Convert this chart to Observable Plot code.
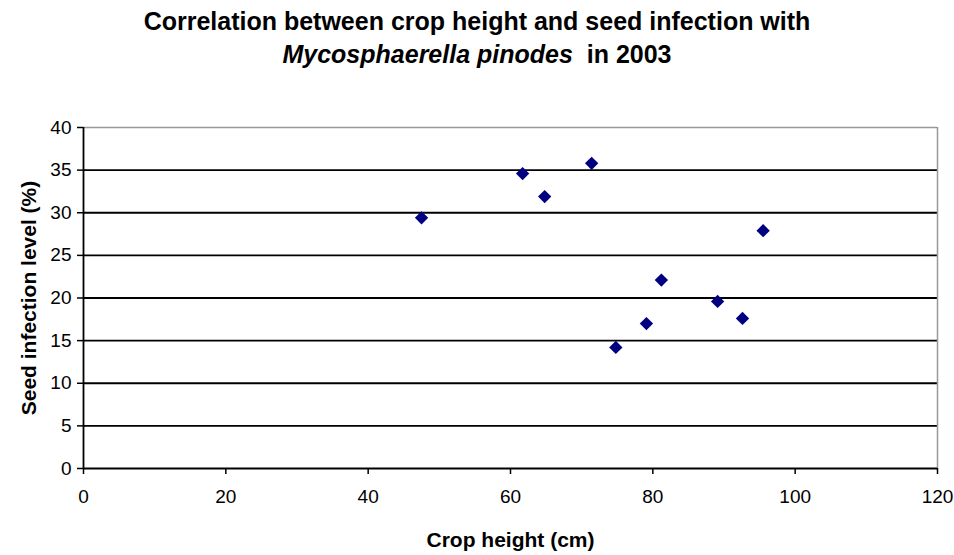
<!DOCTYPE html>
<html>
<head>
<meta charset="utf-8">
<script src="https://cdn.jsdelivr.net/npm/d3@7"></script>
<script src="https://cdn.jsdelivr.net/npm/@observablehq/plot@0.6"></script>
<style>
  body { margin: 0; background: #fff; width: 954px; height: 555px; overflow: hidden; font-family: "Liberation Sans", Arial, sans-serif; }
  #title { height: 90px; box-sizing: border-box; padding-top: 5px; text-align: center; font-weight: bold; font-size: 25px; line-height: 33px; color: #000; }
</style>
</head>
<body>
<div id="title">Correlation between crop height and seed infection with<br><i>Mycosphaerella pinodes</i>&nbsp; in 2003</div>
<div id="chart"></div>
<script>
const cropHeight = [47.5, 61.7, 64.8, 71.4, 74.8, 79.1, 81.2, 89.1, 92.6, 95.5];
const seedInfection = [29.4, 34.6, 31.9, 35.8, 14.2, 17.0, 22.1, 19.6, 17.6, 27.9];
const xTicks = [0, 20, 40, 60, 80, 100, 120];
const yTicks = [0, 5, 10, 15, 20, 25, 30, 35, 40];
const xLabel = "Crop height (cm)";
const yLabel = "Seed infection level (%)";

const points = cropHeight.map((x, i) => ({x, y: seedInfection[i]}));

const chart = Plot.plot({
  width: 954,
  height: 465,
  marginLeft: 83,
  marginRight: 17,
  marginTop: 37,
  marginBottom: 87,
  style: {background: "#fff", color: "#000", fontFamily: "Liberation Sans, Arial, sans-serif"},
  x: {domain: [0, 120]},
  y: {domain: [0, 40]},
  marks: [
    Plot.ruleY(yTicks.filter(d => d > 0 && d < 40), {stroke: "#000", strokeWidth: 1.8}),
    Plot.ruleY([40], {stroke: "#999", strokeWidth: 1.5}),
    Plot.ruleX([120], {stroke: "#999", strokeWidth: 1.5}),
    Plot.ruleX([0], {stroke: "#000", strokeWidth: 1.8}),
    Plot.ruleY([0], {stroke: "#000", strokeWidth: 1.8}),
    Plot.axisY({ticks: yTicks, tickSize: 6, tickPadding: 6, fontSize: 19, stroke: "#000", strokeWidth: 1.5,
      label: yLabel, labelAnchor: "center", labelArrow: "none", labelOffset: 62}),
    Plot.axisX({ticks: xTicks, tickSize: 6, tickPadding: 15, fontSize: 19, stroke: "#000", strokeWidth: 1.5,
      label: xLabel, labelAnchor: "center", labelArrow: "none", labelOffset: 78}),
    Plot.dot(points, {x: "x", y: "y", symbol: "diamond2", r: 6, fill: "#000080", stroke: "none"})
  ]
});
document.getElementById("chart").appendChild(chart);
chart.querySelectorAll("text").forEach(t => {
  if (t.textContent === xLabel || t.textContent === yLabel) {
    t.setAttribute("font-weight", "bold");
    t.setAttribute("font-size", "21");
  }
});
</script>
</body>
</html>
